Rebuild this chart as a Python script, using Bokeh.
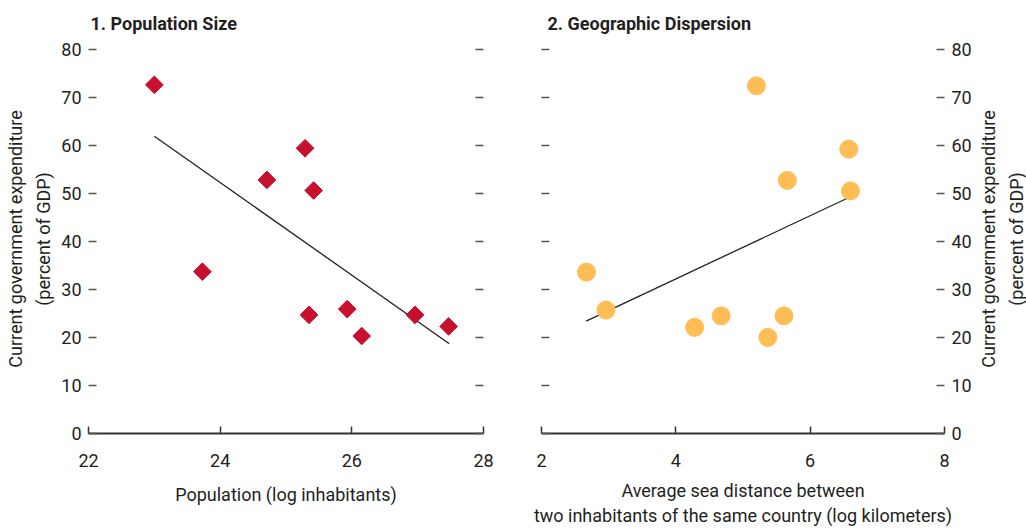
from bokeh.plotting import figure
from bokeh.layouts import row
from bokeh.models import LinearAxis, FixedTicker, Range1d
from bokeh.embed import file_html
from bokeh.resources import INLINE
import math

# ---- data ----
pop_x = [23.0, 25.29, 24.71, 25.42, 23.73, 25.35, 25.93, 26.15, 26.96, 27.47]
pop_y = [72.6, 59.4, 52.8, 50.6, 33.7, 24.7, 25.9, 20.3, 24.7, 22.3]
pop_fit_x = [23.0, 27.48]
pop_fit_y = [61.9, 18.7]

geo_x = [5.20, 6.575, 5.66, 6.60, 2.67, 2.96, 4.28, 4.675, 5.37, 5.61]
geo_y = [72.4, 59.2, 52.7, 50.5, 33.6, 25.7, 22.1, 24.5, 20.0, 24.5]
geo_fit_x = [2.665, 6.60]
geo_fit_y = [23.4, 49.3]

y_ticks = [0, 10, 20, 30, 40, 50, 60, 70, 80]
pop_ticks = [22, 24, 26, 28]
geo_ticks = [2, 4, 6, 8]

title1 = "1. Population Size"
title2 = "2. Geographic Dispersion"
ylab = "Current government expenditure\n(percent of GDP)"
xlab1 = "Population (log inhabitants)"
xlab2 = "Average sea distance between\ntwo inhabitants of the same country (log kilometers)"

FONT = "Roboto"
TXT = "#231f20"
FS = "18px"
RED = "#c8102e"
ORANGE = "#ffbe55"

H = 529
TOP = 43
BOTTOM = 96
Y0, Y1 = 0, 81.0


def style_ylabel(ax):
    ax.axis_label = ylab
    ax.axis_label_text_font = FONT
    ax.axis_label_text_font_size = FS
    ax.axis_label_text_font_style = "normal"
    ax.axis_label_text_color = TXT
    ax.axis_label_text_line_height = 1.33


def make_fig(width, bl, br, xr, xticks, label_side, title, title_offset, xlabel, xl_standoff):
    p = figure(width=width, height=H, output_backend="svg", toolbar_location=None,
               x_range=Range1d(*xr), y_range=Range1d(Y0, Y1),
               min_border_left=bl, min_border_right=br,
               min_border_top=TOP, min_border_bottom=BOTTOM,
               x_axis_location="below", y_axis_location=None, title=title)
    p.outline_line_color = None
    p.grid.visible = False
    p.title.text_font = FONT
    p.title.text_font_size = FS
    p.title.text_font_style = "bold"
    p.title.text_color = TXT
    p.title.align = "left"
    p.title.offset = title_offset
    p.title.standoff = 21

    xa = p.xaxis[0]
    xa.ticker = FixedTicker(ticks=xticks)
    xa.axis_line_color = "#333333"
    xa.axis_line_width = 2
    xa.major_tick_in = 7
    xa.major_tick_out = 0
    xa.major_tick_line_color = "#333333"
    xa.major_tick_line_width = 1.5
    xa.minor_tick_line_color = None
    xa.major_label_standoff = 20
    xa.major_label_text_font = FONT
    xa.major_label_text_font_size = FS
    xa.major_label_text_color = TXT
    xa.axis_label = xlabel
    xa.axis_label_standoff = xl_standoff
    xa.axis_label_text_font = FONT
    xa.axis_label_text_font_size = FS
    xa.axis_label_text_font_style = "normal"
    xa.axis_label_text_color = TXT
    xa.axis_label_text_line_height = 1.2

    for side in ("left", "right"):
        ax = LinearAxis(ticker=FixedTicker(ticks=y_ticks))
        ax.axis_line_color = None
        ax.major_tick_in = 8
        ax.major_tick_out = 0
        ax.major_tick_line_color = "#555555"
        ax.major_tick_line_width = 1.5
        ax.minor_tick_line_color = None
        ax.major_label_text_font = FONT
        ax.major_label_text_font_size = FS
        ax.major_label_text_color = TXT
        if side == label_side:
            ax.major_label_standoff = 7
            if side == "left":
                style_ylabel(ax)
                ax.axis_label_standoff = 4
        else:
            ax.major_label_overrides = {t: "" for t in y_ticks}
            ax.major_label_standoff = 0
        p.add_layout(ax, side)
    return p


# ---- left panel ----
p1 = make_fig(512, 88, 29, (22, 28), pop_ticks, "left", title1, 2, xlab1, 14)
p1.line(pop_fit_x, pop_fit_y, line_color="#231f20", line_width=1.3)
p1.scatter(pop_x, pop_y, marker="square", size=12.5, angle=math.pi / 4,
           fill_color=RED, line_color=RED)

# ---- right panel ----
p2 = make_fig(465, 29, 33, (2, 8), geo_ticks, "right", title2, 6, xlab2, 10)
p2.line(geo_fit_x, geo_fit_y, line_color="#231f20", line_width=1.3)
p2.scatter(geo_x, geo_y, marker="circle", size=18, fill_color=ORANGE, line_color=ORANGE)

# ---- right-hand y-axis title (reads bottom to top, like the left one) ----
p3 = figure(width=49, height=H, output_backend="svg", toolbar_location=None,
            x_range=Range1d(0, 1), y_range=Range1d(Y0, Y1),
            min_border_left=48, min_border_right=0,
            min_border_top=TOP, min_border_bottom=BOTTOM,
            x_axis_location=None, y_axis_location=None)
p3.outline_line_color = None
p3.grid.visible = False
ax3 = LinearAxis(ticker=FixedTicker(ticks=[]))
ax3.axis_line_color = None
ax3.major_tick_line_color = None
ax3.minor_tick_line_color = None
ax3.major_label_standoff = 0
ax3.major_tick_in = 0
ax3.major_tick_out = 0
style_ylabel(ax3)
ax3.axis_label_standoff = 0
p3.add_layout(ax3, "left")

layout = row(p1, p2, p3)
open("out.html", "w").write(file_html(layout, INLINE))
